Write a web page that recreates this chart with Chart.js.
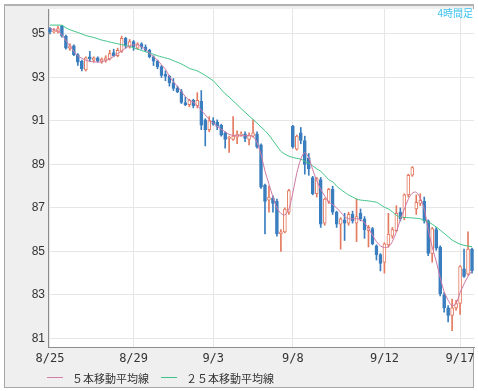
<!DOCTYPE html>
<html lang="ja">
<head>
<meta charset="utf-8">
<title>4時間足</title>
<script src="https://cdn.jsdelivr.net/npm/chart.js@4.4.1/dist/chart.umd.min.js"></script>
<style>
    html, body { margin: 0; padding: 0; background: #fff; }
    #wrap { position: relative; width: 478px; height: 391px; }
    #chart { position: absolute; left: 0; top: 0; }
    .span-label {
        position: absolute; right: 5px; top: 5px;
        font: 10px "Noto Sans CJK JP", sans-serif; color: #3cc3ef;
    }
    .legend-item {
        position: absolute; top: 370px; height: 14px; line-height: 14px;
        font: 11px "Noto Sans CJK JP", sans-serif; color: #333; white-space: nowrap;
    }
    .legend-item i {
        position: absolute; left: 0; top: 7px; width: 16px; height: 0;
        border-top: 1px solid;
    }
    .legend-item span { margin-left: 25px; }
</style>
</head>
<body>
<div id="wrap">
    <canvas id="chart" width="478" height="391"></canvas>
    <div class="span-label">4時間足</div>
    <div class="legend-item" style="left:47px"><i style="border-color:#d27fa9"></i><span>５本移動平均線</span></div>
    <div class="legend-item" style="left:161px"><i style="border-color:#3fc487"></i><span>２５本移動平均線</span></div>
</div>
<script>
// date ticks on the x axis (index of the first 4h bar of that day)
const dateLabels = ['8/25', '8/29', '9/3', '9/8', '9/12', '9/17'];
const dateIndex = [0, 21, 41, 61, 84, 103];

// price ticks
const yTicks = [81, 83, 85, 87, 89, 91, 93, 95];

// 4h candles
const opens = [
    95.25, 95.10, 95.10, 95.38, 94.90, 94.35, 94.45, 94.05, 93.75, 93.35,
    93.95, 93.80, 93.90, 93.75, 93.80, 93.85, 94.15, 94.00, 94.20, 94.80,
    94.40, 94.65, 94.35, 94.55, 94.40, 94.25, 93.95, 93.75, 93.50, 93.15,
    93.05, 92.75, 92.50, 92.35, 91.85, 91.75, 91.95, 91.70, 91.90, 91.05,
    90.60, 91.00, 90.95, 90.80, 90.45, 90.20, 90.15, 90.25, 90.35, 90.40,
    90.15, 90.30, 90.40, 89.90, 88.05, 87.35, 87.45, 87.30, 85.80, 85.90,
    86.80, 90.75, 89.70, 90.45, 90.10, 89.30, 88.40, 87.65, 88.30, 86.30,
    87.30, 87.85, 86.80, 86.25, 86.45, 86.30, 86.70, 86.30, 86.75, 86.50,
    85.95, 86.05, 85.25, 84.85, 84.50, 85.30, 85.70, 85.95, 86.80, 86.55,
    87.60, 88.50, 86.95, 87.20, 87.30, 86.40, 84.90, 86.00, 85.20, 83.00,
    82.40, 82.05, 82.40, 82.60, 84.20, 83.95, 85.10
];
const highs = [
    95.30, 95.25, 95.35, 95.40, 94.95, 94.55, 94.50, 94.10, 93.80, 93.95,
    94.20, 93.95, 93.95, 93.90, 94.00, 94.25, 94.30, 94.35, 94.90, 94.85,
    94.75, 94.70, 94.60, 94.60, 94.50, 94.30, 94.00, 93.80, 93.55, 93.30,
    93.10, 92.95, 92.60, 92.45, 92.10, 92.00, 92.00, 92.30, 92.40, 91.10,
    91.20, 91.15, 91.05, 90.85, 90.50, 90.30, 91.20, 90.55, 90.50, 90.50,
    90.45, 91.05, 90.50, 89.95, 88.10, 88.00, 87.55, 87.40, 86.00, 87.00,
    87.85, 90.80, 90.35, 90.70, 90.30, 89.50, 88.45, 88.40, 88.40, 87.45,
    87.90, 88.00, 86.85, 86.55, 86.75, 86.80, 86.85, 87.40, 86.95, 86.60,
    86.20, 86.10, 85.30, 84.90, 85.40, 86.75, 86.10, 87.10, 87.00, 87.65,
    88.55, 88.90, 87.60, 87.65, 87.50, 86.45, 86.10, 86.10, 85.25, 83.10,
    82.50, 82.80, 82.75, 84.35, 85.10, 85.90, 85.15
];
const lows = [
    95.00, 95.05, 95.05, 94.85, 94.30, 94.25, 94.00, 93.55, 93.30, 93.30,
    93.75, 93.70, 93.70, 93.65, 93.70, 93.80, 93.95, 93.95, 94.15, 94.35,
    94.35, 94.25, 94.30, 94.30, 94.20, 93.90, 93.55, 93.40, 93.00, 92.85,
    92.60, 92.40, 92.30, 91.80, 91.70, 91.65, 91.60, 91.60, 90.60, 89.85,
    90.50, 90.80, 90.60, 90.30, 89.75, 89.55, 90.10, 89.95, 90.30, 90.05,
    89.90, 90.25, 89.75, 87.90, 85.80, 86.80, 86.80, 85.70, 85.00, 85.85,
    86.70, 89.75, 89.65, 89.95, 88.55, 88.50, 87.60, 87.50, 86.10, 86.20,
    87.20, 86.70, 86.10, 85.10, 85.50, 86.20, 86.30, 85.45, 86.40, 85.60,
    85.20, 85.30, 84.60, 84.10, 84.00, 85.20, 85.60, 85.90, 86.40, 86.45,
    87.50, 88.45, 86.70, 87.10, 86.30, 84.80, 84.50, 85.05, 82.95, 82.20,
    81.75, 81.35, 82.30, 82.10, 83.80, 83.90, 84.00
];
const closes = [
    95.10, 95.15, 95.25, 94.90, 94.35, 94.45, 94.05, 93.70, 93.40, 93.90,
    93.85, 93.90, 93.75, 93.85, 93.90, 94.10, 94.00, 94.25, 94.80, 94.45,
    94.65, 94.40, 94.55, 94.40, 94.25, 93.95, 93.75, 93.50, 93.10, 93.05,
    92.75, 92.50, 92.35, 91.85, 91.75, 91.95, 91.70, 91.95, 90.80, 90.60,
    91.00, 90.85, 90.75, 90.35, 90.15, 90.25, 90.30, 90.40, 90.40, 90.20,
    90.35, 90.45, 89.80, 87.95, 87.30, 87.50, 87.20, 85.80, 85.90, 86.95,
    87.80, 89.80, 90.30, 90.10, 89.00, 88.80, 87.65, 88.35, 86.25, 87.40,
    87.85, 86.80, 86.25, 86.50, 86.30, 86.70, 86.40, 86.60, 86.50, 86.00,
    86.10, 85.35, 84.85, 84.45, 85.35, 85.80, 86.00, 86.75, 86.50, 87.60,
    88.50, 88.85, 87.25, 87.35, 86.40, 84.90, 86.05, 85.15, 83.05, 82.40,
    82.05, 82.40, 82.60, 84.30, 83.85, 85.10, 84.10
];

// moving averages as drawn on the picture
const ma5 = [
    95.25, 95.20, 95.15, 94.95, 94.70, 94.45, 94.20, 94.00, 93.88, 93.80,
    93.74, 93.72, 93.71, 93.72, 93.78, 93.85, 93.97, 94.10, 94.22, 94.35,
    94.45, 94.50, 94.50, 94.42, 94.28, 94.12, 93.95, 93.80, 93.58, 93.38,
    93.05, 92.80, 92.60, 92.35, 92.12, 91.95, 91.86, 91.70, 91.50, 91.28,
    91.07, 90.90, 90.75, 90.62, 90.50, 90.38, 90.34, 90.32, 90.32, 90.32,
    90.32, 90.28, 90.00, 89.45, 88.70, 88.10, 87.50, 87.00, 86.75, 86.68,
    86.95, 87.70, 88.60, 89.25, 89.55, 89.30, 88.75, 88.25, 87.85, 87.55,
    87.28, 87.15, 87.00, 86.80, 86.60, 86.50, 86.50, 86.50, 86.45, 86.32,
    86.05, 85.75, 85.45, 85.25, 85.18, 85.20, 85.45, 85.90, 86.45, 86.95,
    87.40, 87.68, 87.72, 87.45, 86.95, 86.00, 85.20, 84.55, 83.80, 83.15,
    82.75, 82.50, 82.60, 83.10, 83.50, 83.85, 84.10
];
const ma25 = [
    95.41, 95.41, 95.41, 95.40, 95.28, 95.20, 95.13, 95.07, 95.00, 94.93,
    94.88, 94.84, 94.78, 94.72, 94.68, 94.63, 94.59, 94.55, 94.51, 94.47,
    94.42, 94.37, 94.30, 94.24, 94.18, 94.12, 94.07, 94.00, 93.95, 93.90,
    93.85, 93.77, 93.70, 93.62, 93.52, 93.42, 93.36, 93.30, 93.20, 93.10,
    92.97, 92.85, 92.65, 92.45, 92.25, 92.10, 91.92, 91.75, 91.57, 91.40,
    91.23, 91.07, 90.90, 90.72, 90.55, 90.35, 90.10, 89.85, 89.60, 89.48,
    89.38, 89.32, 89.28, 89.24, 89.15, 89.05, 88.93, 88.80, 88.68, 88.50,
    88.30, 88.20, 88.00, 87.85, 87.72, 87.60, 87.50, 87.41, 87.36, 87.34,
    87.32, 87.29, 87.26, 87.15, 87.03, 86.95, 86.82, 86.66, 86.58, 86.56,
    86.55, 86.54, 86.52, 86.50, 86.42, 86.35, 86.25, 86.12, 85.98, 85.83,
    85.68, 85.52, 85.42, 85.33, 85.28, 85.24, 85.22
];

// colours
const upColor = '#e47a60';
const downColor = '#3a7ebf';
const ma5Color = '#cf78a4';
const ma25Color = '#3fc487';

const isUp = closes.map((c, i) => c >= opens[i]);
const barLabels = closes.map((c, i) => {
    const k = dateIndex.indexOf(i);
    return k >= 0 ? dateLabels[k] : '';
});
const bodies = opens.map((o, i) => [o, closes[i]]);
const wicks = lows.map((l, i) => [l, highs[i]]);

// grey frame around the plot, white plot area
const framePlugin = {
    id: 'frame',
    beforeDraw: function(chart) {
        const ctx = chart.ctx;
        const a = chart.chartArea;
        ctx.save();
        ctx.fillStyle = '#fff';
        ctx.fillRect(0, 0, chart.width, chart.height);
        ctx.fillStyle = '#efefef';
        ctx.fillRect(4, 5, 470, 383);
        ctx.strokeStyle = '#a6a6a6';
        ctx.lineWidth = 1;
        ctx.strokeRect(4.5, 5.5, 469, 382);
        ctx.fillStyle = '#fff';
        ctx.fillRect(a.left, a.top, a.right - a.left, a.bottom - a.top);
        ctx.restore();
    },
    afterDraw: function(chart) {
        const ctx = chart.ctx;
        ctx.save();
        ctx.fillStyle = '#b2b2b2';
        ctx.fillRect(4, 4, 470, 2);
        ctx.restore();
    }
};

new Chart(document.getElementById('chart'), {
    data: {
        labels: barLabels,
        datasets: [
            {
                type: 'line', label: '５本移動平均線', data: ma5,
                borderColor: ma5Color, borderWidth: 1, pointRadius: 0, tension: 0.3, order: 0
            },
            {
                type: 'line', label: '２５本移動平均線', data: ma25,
                borderColor: ma25Color, borderWidth: 1, pointRadius: 0, tension: 0.3, order: 0
            },
            {
                type: 'bar', label: 'body', data: bodies,
                backgroundColor: c => isUp[c.dataIndex] ? '#fff' : downColor,
                borderColor: c => isUp[c.dataIndex] ? upColor : downColor,
                borderWidth: 1, borderSkipped: false, barThickness: 3, grouped: false, order: 1
            },
            {
                type: 'bar', label: 'wick', data: wicks,
                backgroundColor: c => isUp[c.dataIndex] ? upColor : downColor,
                borderWidth: 0, barThickness: 1, grouped: false, order: 2
            }
        ]
    },
    options: {
        responsive: false,
        animation: false,
        devicePixelRatio: 1,
        layout: { padding: { left: 4, right: 4, top: 6, bottom: 4 } },
        plugins: {
            legend: { display: false },
            tooltip: { enabled: false }
        },
        scales: {
            x: {
                type: 'category',
                offset: true,
                afterFit: s => { s.height = 40; },
                grid: {
                    offset: false, drawTicks: false, lineWidth: 1,
                    color: c => dateIndex.includes(c.index) ? '#e6e6e6' : 'rgba(0,0,0,0)'
                },
                border: { color: '#8c8c8c', width: 1 },
                ticks: {
                    autoSkip: false, maxRotation: 0, padding: 5, color: '#333',
                    font: { family: '"DejaVu Sans Mono", monospace', size: 12 }
                }
            },
            y: {
                min: 80.6,
                max: 96.15,
                afterFit: s => { s.width = 44; },
                afterBuildTicks: s => { s.ticks = yTicks.map(v => ({ value: v })); },
                grid: { color: '#e6e6e6', drawTicks: false },
                border: { color: '#8c8c8c', width: 1 },
                ticks: {
                    padding: 3, color: '#333',
                    font: { family: '"Liberation Sans", Arial, sans-serif', size: 12, lineHeight: 1 },
                    callback: v => String(v)
                }
            }
        }
    },
    plugins: [framePlugin]
});
</script>
</body>
</html>
